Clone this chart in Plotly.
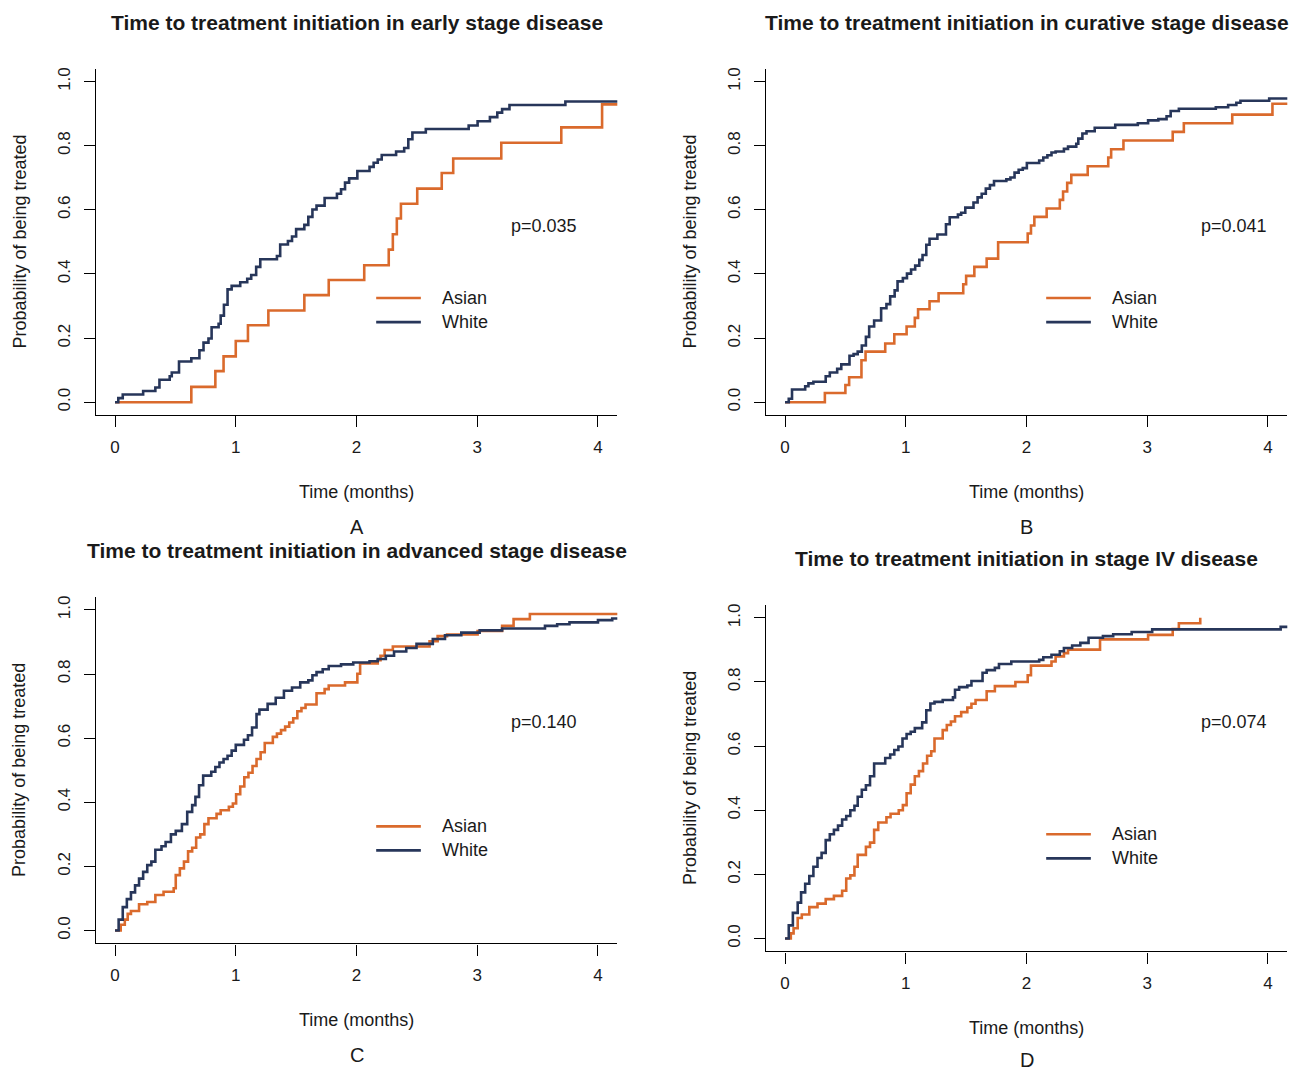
import plotly.graph_objects as go

# ---------------- data ----------------
# Panel A: early stage
a_white_t = [0.027,0.064,0.233,0.334,0.368,0.453,0.47,0.53,0.632,0.699,0.733,0.774,0.8,0.858,0.875,0.902,0.932,0.966,1.037,1.095,1.128,1.169,1.203,1.341,1.368,1.432,1.466,1.5,1.568,1.601,1.635,1.669,1.736,1.838,1.872,1.905,1.939,2.007,2.108,2.142,2.176,2.209,2.328,2.395,2.429,2.463,2.574,2.929,3.003,3.105,3.166,3.206,3.267,3.73]
a_white_p = [0.013,0.024,0.035,0.046,0.07,0.081,0.093,0.127,0.137,0.162,0.186,0.199,0.234,0.245,0.27,0.304,0.352,0.363,0.374,0.385,0.397,0.422,0.446,0.456,0.492,0.503,0.517,0.54,0.553,0.578,0.601,0.613,0.637,0.65,0.664,0.685,0.698,0.721,0.734,0.747,0.757,0.771,0.782,0.793,0.82,0.841,0.852,0.863,0.876,0.889,0.903,0.914,0.927,0.938]
a_asian_t = [0.632,0.831,0.899,1.0,1.101,1.27,1.568,1.77,2.064,2.267,2.301,2.334,2.368,2.503,2.706,2.801,3.199,3.696,4.034]
a_asian_p = [0.048,0.097,0.143,0.191,0.24,0.286,0.334,0.381,0.427,0.476,0.524,0.573,0.619,0.666,0.715,0.76,0.809,0.857,0.929]

# Panel B: curative stage
b_white_t = [0.031,0.058,0.167,0.194,0.235,0.337,0.371,0.432,0.466,0.534,0.568,0.602,0.636,0.67,0.697,0.738,0.796,0.84,0.871,0.908,0.932,0.976,1.01,1.044,1.078,1.112,1.139,1.17,1.197,1.262,1.333,1.364,1.432,1.459,1.493,1.561,1.595,1.629,1.663,1.697,1.731,1.833,1.867,1.901,1.935,1.969,2.003,2.105,2.139,2.173,2.207,2.241,2.31,2.344,2.412,2.429,2.463,2.497,2.565,2.735,2.922,3.007,3.092,3.16,3.194,3.262,3.568,3.67,3.738,3.772,4.01]
b_white_p = [0.011,0.04,0.05,0.059,0.064,0.081,0.093,0.104,0.118,0.145,0.15,0.158,0.177,0.204,0.236,0.255,0.293,0.306,0.33,0.349,0.377,0.387,0.401,0.414,0.426,0.444,0.459,0.491,0.51,0.523,0.555,0.577,0.585,0.591,0.607,0.623,0.639,0.65,0.666,0.677,0.69,0.695,0.701,0.716,0.725,0.73,0.746,0.754,0.763,0.77,0.779,0.782,0.79,0.797,0.806,0.822,0.838,0.845,0.856,0.865,0.87,0.879,0.883,0.892,0.908,0.915,0.92,0.927,0.934,0.94,0.947]
b_asian_t = [0.33,0.5,0.531,0.633,0.667,0.83,0.905,1.007,1.075,1.102,1.197,1.272,1.476,1.5,1.568,1.67,1.765,2.01,2.037,2.065,2.167,2.276,2.303,2.337,2.371,2.507,2.677,2.701,2.803,3.211,3.303,3.704,4.037]
b_asian_p = [0.029,0.054,0.078,0.131,0.158,0.183,0.212,0.236,0.263,0.29,0.315,0.34,0.368,0.394,0.422,0.448,0.499,0.526,0.551,0.578,0.604,0.631,0.657,0.684,0.709,0.736,0.763,0.789,0.816,0.843,0.87,0.897,0.931]

# Panel C: advanced stage
c_white_t = [0.03,0.064,0.098,0.132,0.166,0.199,0.233,0.267,0.301,0.334,0.385,0.419,0.463,0.503,0.554,0.598,0.639,0.666,0.696,0.73,0.797,0.831,0.865,0.899,0.932,0.966,1.0,1.068,1.101,1.135,1.172,1.196,1.264,1.331,1.399,1.466,1.534,1.601,1.635,1.669,1.72,1.77,1.872,1.973,2.108,2.176,2.243,2.311,2.412,2.497,2.632,2.733,2.868,3.02,3.206,3.561,3.662,3.764,4.0,4.118]
c_white_p = [0.034,0.073,0.098,0.119,0.141,0.162,0.183,0.204,0.215,0.252,0.263,0.276,0.3,0.311,0.332,0.37,0.391,0.417,0.453,0.483,0.495,0.51,0.524,0.535,0.545,0.561,0.579,0.595,0.609,0.633,0.675,0.689,0.707,0.726,0.748,0.758,0.774,0.78,0.796,0.806,0.815,0.825,0.83,0.836,0.84,0.847,0.857,0.87,0.881,0.894,0.909,0.921,0.929,0.936,0.942,0.95,0.955,0.961,0.968,0.973]
c_asian_t = [0.047,0.081,0.105,0.132,0.199,0.267,0.334,0.402,0.486,0.503,0.537,0.571,0.605,0.639,0.672,0.706,0.74,0.774,0.841,0.875,0.943,0.976,1.003,1.037,1.071,1.105,1.139,1.172,1.206,1.24,1.307,1.341,1.375,1.409,1.443,1.476,1.51,1.544,1.578,1.669,1.736,1.77,1.905,2.007,2.03,2.176,2.199,2.233,2.301,2.605,2.672,2.75,3.003,3.206,3.301,3.436]
c_asian_p = [0.018,0.034,0.052,0.061,0.082,0.089,0.111,0.121,0.132,0.173,0.194,0.215,0.247,0.258,0.29,0.3,0.332,0.35,0.364,0.375,0.386,0.396,0.425,0.449,0.478,0.492,0.513,0.535,0.556,0.585,0.604,0.614,0.625,0.636,0.649,0.662,0.684,0.694,0.705,0.74,0.753,0.764,0.774,0.801,0.833,0.843,0.857,0.875,0.886,0.902,0.918,0.923,0.934,0.95,0.971,0.987]

# Panel D: stage IV
d_white_t = [0.031,0.065,0.105,0.133,0.167,0.201,0.235,0.269,0.303,0.337,0.371,0.405,0.439,0.473,0.507,0.541,0.575,0.602,0.636,0.67,0.704,0.738,0.83,0.871,0.905,0.939,0.973,1.007,1.041,1.075,1.136,1.17,1.204,1.238,1.306,1.391,1.408,1.442,1.51,1.544,1.636,1.67,1.738,1.772,1.874,2.105,2.139,2.207,2.276,2.31,2.378,2.446,2.514,2.633,2.718,2.871,3.041,4.105]
d_white_p = [0.041,0.08,0.112,0.144,0.171,0.195,0.224,0.251,0.267,0.307,0.325,0.339,0.352,0.371,0.382,0.4,0.414,0.442,0.464,0.478,0.506,0.546,0.563,0.574,0.588,0.599,0.624,0.638,0.645,0.656,0.674,0.712,0.733,0.738,0.744,0.752,0.776,0.784,0.789,0.803,0.829,0.837,0.844,0.856,0.864,0.869,0.877,0.885,0.896,0.906,0.914,0.922,0.938,0.943,0.949,0.956,0.964,0.972]
d_asian_t = [0.048,0.071,0.105,0.139,0.201,0.269,0.337,0.405,0.473,0.507,0.541,0.575,0.602,0.67,0.704,0.738,0.772,0.84,0.874,0.942,0.976,1.007,1.041,1.075,1.109,1.143,1.177,1.211,1.238,1.306,1.34,1.374,1.408,1.459,1.51,1.544,1.578,1.67,1.738,1.908,2.01,2.037,2.207,2.241,2.31,2.344,2.609,3.007,3.211,3.262,3.439]
d_asian_p = [0.016,0.032,0.064,0.075,0.098,0.109,0.123,0.133,0.149,0.187,0.197,0.224,0.261,0.286,0.299,0.339,0.362,0.378,0.389,0.4,0.416,0.453,0.48,0.506,0.522,0.546,0.57,0.584,0.624,0.65,0.666,0.677,0.693,0.706,0.72,0.732,0.744,0.771,0.787,0.8,0.821,0.851,0.864,0.88,0.89,0.901,0.933,0.947,0.965,0.983,1.0]

# last follow-up time of each curve (months)
white_followup = [4.6, 4.6, 4.6, 4.6]
asian_followup = [4.6, 4.6, 4.6, 3.439]

titles = ["Time to treatment initiation in early stage disease",
          "Time to treatment initiation in curative stage disease",
          "Time to treatment initiation in advanced stage disease",
          "Time to treatment initiation in stage IV disease"]
p_values = ["p=0.035", "p=0.041", "p=0.140", "p=0.074"]
letters = ["A", "B", "C", "D"]
groups = ["Asian", "White"]
x_ticks = [0, 1, 2, 3, 4]
x_tick_labels = ["0", "1", "2", "3", "4"]
y_ticks = [0, 0.2, 0.4, 0.6, 0.8, 1.0]
y_tick_labels = ["0.0", "0.2", "0.4", "0.6", "0.8", "1.0"]
x_title = "Time (months)"
y_title = "Probability of being treated"

white_t = [a_white_t, b_white_t, c_white_t, d_white_t]
white_p = [a_white_p, b_white_p, c_white_p, d_white_p]
asian_t = [a_asian_t, b_asian_t, c_asian_t, d_asian_t]
asian_p = [a_asian_p, b_asian_p, c_asian_p, d_asian_p]

# ---------------- layout / style ----------------
W, H = 1289, 1071
ORANGE = "#DA6A2C"
NAVY = "#27365A"
TXT = "#1a1a1a"
FONT = "Liberation Sans, Arial, Helvetica, sans-serif"

# plot regions in pixels: (left, right, top, bottom)
regions = [(95.7, 617.3, 66.85, 413.85),
           (765.7, 1287.3, 66.85, 413.85),
           (95.7, 617.3, 596.15, 943.15),
           (765.7, 1287.3, 604.15, 951.15)]
letter_offset = [112, 112, 112, 109]
pval_pos = [(3.55, 0.55), (3.72, 0.55), (3.55, 0.65), (3.72, 0.675)]
legend_x = (2.163, 2.533, 2.69)
legend_y = (0.325, 0.25)


def px(x):
    return x / W


def py(y):
    return 1 - y / H


def km_xy(t, p, end):
    xs = [0.0] + list(t)
    ys = [0.0] + list(p)
    if end > xs[-1]:
        xs.append(end)
        ys.append(ys[-1])
    return xs, ys


fig = go.Figure()
annotations = []
shapes = []

for i in range(4):
    sfx = "" if i == 0 else str(i + 1)
    xa, ya = "x" + sfx, "y" + sfx
    L, R, T, B = regions[i]

    xs, ys = km_xy(asian_t[i], asian_p[i], asian_followup[i])
    fig.add_trace(go.Scatter(x=xs, y=ys, mode="lines", line=dict(color=ORANGE, width=2.6, shape="hv"),
                             xaxis=xa, yaxis=ya, showlegend=False, name="Asian"))
    xs, ys = km_xy(white_t[i], white_p[i], white_followup[i])
    fig.add_trace(go.Scatter(x=xs, y=ys, mode="lines", line=dict(color=NAVY, width=2.6, shape="hv"),
                             xaxis=xa, yaxis=ya, showlegend=False, name="White"))

    axis_common = dict(showgrid=False, zeroline=False, showline=True, linecolor="black", linewidth=1.3,
                       ticks="outside", ticklen=11, tickwidth=1.3, tickcolor="black",
                       tickfont=dict(family=FONT, size=17, color=TXT), fixedrange=True)
    fig.layout["xaxis" + sfx] = dict(axis_common, domain=[px(L), px(R)], range=[-0.16, 4.16],
                                     tickvals=x_ticks, ticktext=x_tick_labels, anchor=ya,
                                     ticklabelstandoff=5)
    fig.layout["yaxis" + sfx] = dict(axis_common, domain=[py(B), py(T)], range=[-0.04, 1.04],
                                     tickvals=y_ticks, ticktext=y_tick_labels, anchor=xa,
                                     tickangle=-90, ticklabelstandoff=7)

    cx = (L + R) / 2
    cy = (T + B) / 2
    annotations.append(dict(text="<b>" + titles[i] + "</b>", x=px(cx), y=py(T - 46.5), xref="paper", yref="paper",
                            showarrow=False, xanchor="center", yanchor="middle",
                            font=dict(family=FONT, size=21, color=TXT)))
    annotations.append(dict(text=x_title, x=px(cx), y=py(B + 77), xref="paper", yref="paper",
                            showarrow=False, xanchor="center", yanchor="middle",
                            font=dict(family=FONT, size=18, color=TXT)))
    annotations.append(dict(text=letters[i], x=px(cx), y=py(B + letter_offset[i]), xref="paper", yref="paper",
                            showarrow=False, xanchor="center", yanchor="middle",
                            font=dict(family=FONT, size=20, color=TXT)))
    annotations.append(dict(text=y_title, x=px(L - 76), y=py(cy), xref="paper", yref="paper",
                            showarrow=False, xanchor="center", yanchor="middle", textangle=-90,
                            font=dict(family=FONT, size=18, color=TXT)))
    annotations.append(dict(text=p_values[i], x=pval_pos[i][0], y=pval_pos[i][1], xref=xa, yref=ya,
                            showarrow=False, xanchor="center", yanchor="middle",
                            font=dict(family=FONT, size=18, color=TXT)))
    for g, col, ly in zip(groups, [ORANGE, NAVY], legend_y):
        shapes.append(dict(type="line", xref=xa, yref=ya, x0=legend_x[0], x1=legend_x[1], y0=ly, y1=ly,
                           line=dict(color=col, width=2.6)))
        annotations.append(dict(text=g, x=legend_x[2], y=ly, xref=xa, yref=ya, showarrow=False,
                                xanchor="left", yanchor="middle",
                                font=dict(family=FONT, size=18, color=TXT)))

fig.update_layout(width=W, height=H, margin=dict(l=0, r=0, t=0, b=0),
                  paper_bgcolor="white", plot_bgcolor="white",
                  annotations=annotations, shapes=shapes, showlegend=False)

fig.write_html("out.html", config={"displayModeBar": False},
               post_script="document.body.style.margin='0';document.body.style.overflow='hidden';")
